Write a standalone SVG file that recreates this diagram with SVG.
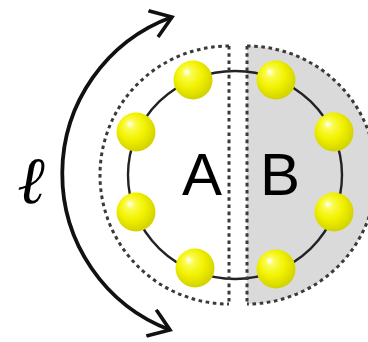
<svg xmlns="http://www.w3.org/2000/svg" width="368" height="342" viewBox="0 0 368 342">
<style>
.dot{fill:none;stroke:#3a3a3a;stroke-width:3;stroke-dasharray:3.6 3.6}
.ring{fill:none;stroke:#222;stroke-width:2.4}
.ball{fill:url(#yb)}
.lbl{font-family:"Liberation Sans",Arial,sans-serif;font-size:60px;fill:#000;text-anchor:middle}
.arc{fill:none;stroke:#111;stroke-width:3.8}
</style>
<defs>
<radialGradient id="yb" cx="0.45" cy="0.42" r="0.6" fx="0.33" fy="0.28">
<stop offset="0" stop-color="#ffffff"/>
<stop offset="0.2" stop-color="#fbfb50"/>
<stop offset="0.55" stop-color="#f2f200"/>
<stop offset="1" stop-color="#d0d000"/>
</radialGradient>
<marker id="ah" viewBox="0 0 30 30" refX="26" refY="15" markerWidth="30" markerHeight="30" markerUnits="userSpaceOnUse" orient="auto-start-reverse">
<path d="M6,1 L26,15 L6,29" fill="none" stroke="#111" stroke-width="3.6" stroke-linejoin="miter"/>
</marker>
</defs>
<g id="regionB">
<path d="M247,46 A129,129 0 0 1 247,304 Z" fill="#dadada" stroke="none"/>
</g>
<g id="ring">
<ellipse class="ring" cx="235" cy="175" rx="107" ry="104"/>
</g>
<g id="boundaryA">
<path class="dot" d="M229,46 A129,129 0 0 0 229,304"/>
<line class="dot" x1="229" y1="46" x2="229" y2="304"/>
</g>
<g id="boundaryB">
<path class="dot" d="M247,46 A129,129 0 0 1 247,304"/>
<line class="dot" x1="247" y1="46" x2="247" y2="304"/>
</g>
<g id="balls">
<circle id="b1" class="ball" cx="193" cy="80" r="19.5"/>
<circle id="b2" class="ball" cx="276" cy="80" r="19.5"/>
<circle id="b3" class="ball" cx="136" cy="132" r="19.5"/>
<circle id="b4" class="ball" cx="334" cy="132" r="19.5"/>
<circle id="b5" class="ball" cx="136" cy="212" r="19.5"/>
<circle id="b6" class="ball" cx="334" cy="212" r="19.5"/>
<circle id="b7" class="ball" cx="195" cy="268" r="19.5"/>
<circle id="b8" class="ball" cx="276" cy="269" r="19.5"/>
</g>
<g id="labelA"><text class="lbl" x="202" y="195">A</text></g>
<g id="labelB"><text class="lbl" x="280" y="195">B</text></g>
<g id="connectors">
<path class="arc" d="M170,330 A167,167 0 0 1 172,17" marker-start="url(#ah)" marker-end="url(#ah)"/>
</g>
<g id="labelL"><text x="31" y="203" font-family="Liberation Serif, serif" font-style="italic" font-size="66" text-anchor="middle">ℓ</text></g>
</svg>
